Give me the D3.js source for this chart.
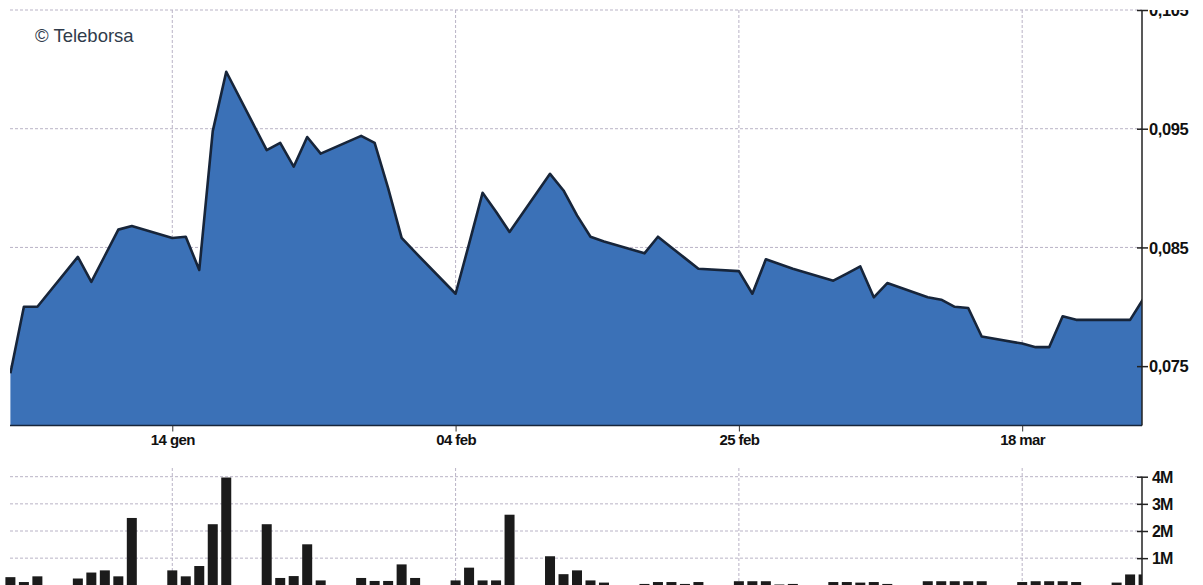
<!DOCTYPE html>
<html><head><meta charset="utf-8">
<script src="https://cdn.jsdelivr.net/npm/d3@7"></script>
<style>html,body{margin:0;padding:0;background:#fff;overflow:hidden}</style>
</head><body><svg id="c" width="1203" height="585"></svg>
<script>
const dates = ["2019-01-02","2019-01-03","2019-01-04","2019-01-07","2019-01-08","2019-01-09","2019-01-10","2019-01-11",
"2019-01-14","2019-01-15","2019-01-16","2019-01-17","2019-01-18","2019-01-21","2019-01-22","2019-01-23","2019-01-24","2019-01-25",
"2019-01-28","2019-01-29","2019-01-30","2019-01-31","2019-02-01","2019-02-04","2019-02-05","2019-02-06","2019-02-07","2019-02-08",
"2019-02-11","2019-02-12","2019-02-13","2019-02-14","2019-02-15","2019-02-18","2019-02-19","2019-02-20","2019-02-21","2019-02-22",
"2019-02-25","2019-02-26","2019-02-27","2019-02-28","2019-03-01","2019-03-04","2019-03-05","2019-03-06","2019-03-07","2019-03-08",
"2019-03-11","2019-03-12","2019-03-13","2019-03-14","2019-03-15","2019-03-18","2019-03-19","2019-03-20","2019-03-21","2019-03-22",
"2019-03-25","2019-03-26","2019-03-27"];
const prices = [0.0744,0.0800,0.0800,0.0842,0.0821,0.0843,0.0865,0.0868,
0.0858,0.0859,0.0831,0.0948,0.0998,0.0932,0.0938,0.0918,0.0943,0.0929,
0.0944,0.0938,0.0900,0.0858,0.0846,0.0811,0.0853,0.0896,0.0880,0.0863,
0.0912,0.0898,0.0877,0.0859,0.0855,0.0845,0.0859,0.0850,0.0841,0.0832,
0.0830,0.0811,0.0840,0.0836,0.0832,0.0822,0.0828,0.0834,0.0808,0.0820,
0.0808,0.0806,0.0800,0.0799,0.0775,0.0769,0.0766,0.0766,0.0792,0.0789,
0.0789,0.0789,0.0807];
const volumes = [300000,120000,330000,250000,470000,550000,330000,2480000,
550000,330000,710000,2250000,3970000,2250000,270000,340000,1510000,180000,
270000,160000,160000,770000,270000,180000,650000,180000,180000,2600000,
1070000,410000,550000,180000,100000,50000,120000,120000,50000,120000,
150000,150000,150000,30000,50000,120000,120000,100000,120000,50000,
150000,150000,150000,150000,150000,120000,150000,150000,150000,120000,
100000,400000,400000];
const xTickDates = ["2019-01-14","2019-02-04","2019-02-25","2019-03-18"];
const xTickLabels = ["14 gen","04 feb","25 feb","18 mar"];
const priceTicks = [0.075,0.085,0.095,0.105];
const priceTickLabels = ["0,075","0,085","0,095","0,105"];
const volumeTicks = [1000000,2000000,3000000,4000000];
const volumeTickLabels = ["1M","2M","3M","4M"];

const parse = d3.timeParse("%Y-%m-%d");
const data = dates.map((d,i)=>({date:parse(d), price:prices[i], volume:volumes[i]}));
const svg = d3.select("#c");
const left = 10, axisX = 1142;
const priceBottom = 425.5, volBottom = 585.3;
const x = d3.scaleTime().domain([parse("2019-01-02"), parse("2019-03-27")]).range([10.4, 1143.6]);
const y = d3.scaleLinear().domain([0.070, 0.105]).range([priceBottom, 10]);
const yv = d3.scaleLinear().domain([0, 4000000]).range([volBottom, 476.7]);
const gridColor = "#b9b3c6";
const font = "'Liberation Sans', Arial, sans-serif";

const defs = svg.append("defs");
defs.append("clipPath").attr("id","pclip").append("rect")
  .attr("x", left).attr("y", 0).attr("width", axisX-left).attr("height", priceBottom);
defs.append("clipPath").attr("id","vclip").append("rect")
  .attr("x", left-6).attr("y", 440).attr("width", axisX-left+6).attr("height", 150);
// clip in the tick's local coordinates (tick sits at y=10)
defs.append("clipPath").attr("id","topclip").append("rect")
  .attr("x", -20).attr("y", -0.5).attr("width", 120).attr("height", 30);

// price grid
const pg = svg.append("g");
pg.selectAll("line.h").data(priceTicks).join("line")
  .attr("x1", left).attr("x2", axisX).attr("y1", d=>y(d)).attr("y2", d=>y(d))
  .attr("stroke", gridColor).attr("stroke-width", 1).attr("stroke-dasharray", "3,2");
pg.selectAll("line.v").data(xTickDates).join("line")
  .attr("x1", d=>x(parse(d))).attr("x2", d=>x(parse(d))).attr("y1", 10).attr("y2", priceBottom)
  .attr("stroke", gridColor).attr("stroke-width", 1).attr("stroke-dasharray", "3,2");

// area
const area = d3.area().x(d=>x(d.date)).y0(priceBottom).y1(d=>y(d.price));
const line = d3.line().x(d=>x(d.date)).y(d=>y(d.price));
const pa = svg.append("g").attr("clip-path","url(#pclip)");
pa.append("path").datum(data).attr("d", area).attr("fill", "#3b71b7");
pa.append("path").datum(data).attr("d", line).attr("fill","none")
  .attr("stroke", "#17253a").attr("stroke-width", 2.6).attr("stroke-linejoin","round");

// x axis
const xa = svg.append("g").attr("transform", `translate(0,${priceBottom})`)
  .call(d3.axisBottom(x).tickValues(xTickDates.map(parse)).tickFormat((d,i)=>xTickLabels[i]).tickSize(6).tickSizeOuter(0));
xa.select(".domain").attr("stroke","#17253a").attr("stroke-width",1.6).attr("d", `M${left},0H${axisX}`);
xa.selectAll(".tick line").attr("stroke","#333");
xa.selectAll(".tick text").attr("font-family", font).attr("font-size", 15).attr("font-weight","bold")
  .attr("fill","#111").attr("letter-spacing","-0.6").attr("dy","0.72em").attr("y", 9);

// price axis (right)
const ya = svg.append("g").attr("transform", `translate(${axisX},0)`)
  .call(d3.axisRight(y).tickValues(priceTicks).tickFormat((d,i)=>priceTickLabels[i]).tickSize(6).tickSizeOuter(0));
ya.select(".domain").attr("stroke","#222").attr("stroke-width",1.5).attr("d", `M0,${priceBottom}V10`);
ya.selectAll(".tick line").attr("x1",-5).attr("stroke","#222").attr("stroke-width",1.5);
ya.selectAll(".tick text").attr("font-family", font).attr("font-size", 16.5).attr("font-weight","bold")
  .attr("fill","#111").attr("letter-spacing","-0.4").attr("x", 7).attr("dy","0.35em");
ya.selectAll(".tick").filter(d=>d===0.105).select("text").attr("clip-path","url(#topclip)");

// volume grid
const vg = svg.append("g");
vg.selectAll("line.h").data(volumeTicks).join("line")
  .attr("x1", left).attr("x2", axisX).attr("y1", d=>yv(d)).attr("y2", d=>yv(d))
  .attr("stroke", gridColor).attr("stroke-width", 1).attr("stroke-dasharray", "3,2");
vg.selectAll("line.v").data(xTickDates).join("line")
  .attr("x1", d=>x(parse(d))).attr("x2", d=>x(parse(d))).attr("y1", 468).attr("y2", volBottom)
  .attr("stroke", gridColor).attr("stroke-width", 1).attr("stroke-dasharray", "3,2");

// volume bars
svg.append("g").attr("clip-path","url(#vclip)").selectAll("rect").data(data).join("rect")
  .attr("x", d=>x(d.date)-5).attr("width", 10)
  .attr("y", d=>yv(d.volume)).attr("height", d=>volBottom-yv(d.volume))
  .attr("fill", "#1b1b1b");

// volume axis
const va = svg.append("g").attr("transform", `translate(${axisX},0)`)
  .call(d3.axisRight(yv).tickValues(volumeTicks).tickFormat((d,i)=>volumeTickLabels[i]).tickSize(6).tickSizeOuter(0));
va.select(".domain").attr("stroke","#222").attr("stroke-width",1.5).attr("d", `M0,${volBottom}V${yv(4000000)}`);
va.selectAll(".tick line").attr("x1",-5).attr("stroke","#222").attr("stroke-width",1.5);
va.selectAll(".tick text").attr("font-family", font).attr("font-size", 16).attr("font-weight","bold")
  .attr("fill","#111").attr("letter-spacing","-0.9").attr("x", 10).attr("dy","0.35em");

// logo text
svg.append("text").attr("x", 35).attr("y", 42).attr("font-family", font).attr("font-size", 18.5)
  .attr("fill", "#303b4b").text("© Teleborsa");
</script></body></html>
